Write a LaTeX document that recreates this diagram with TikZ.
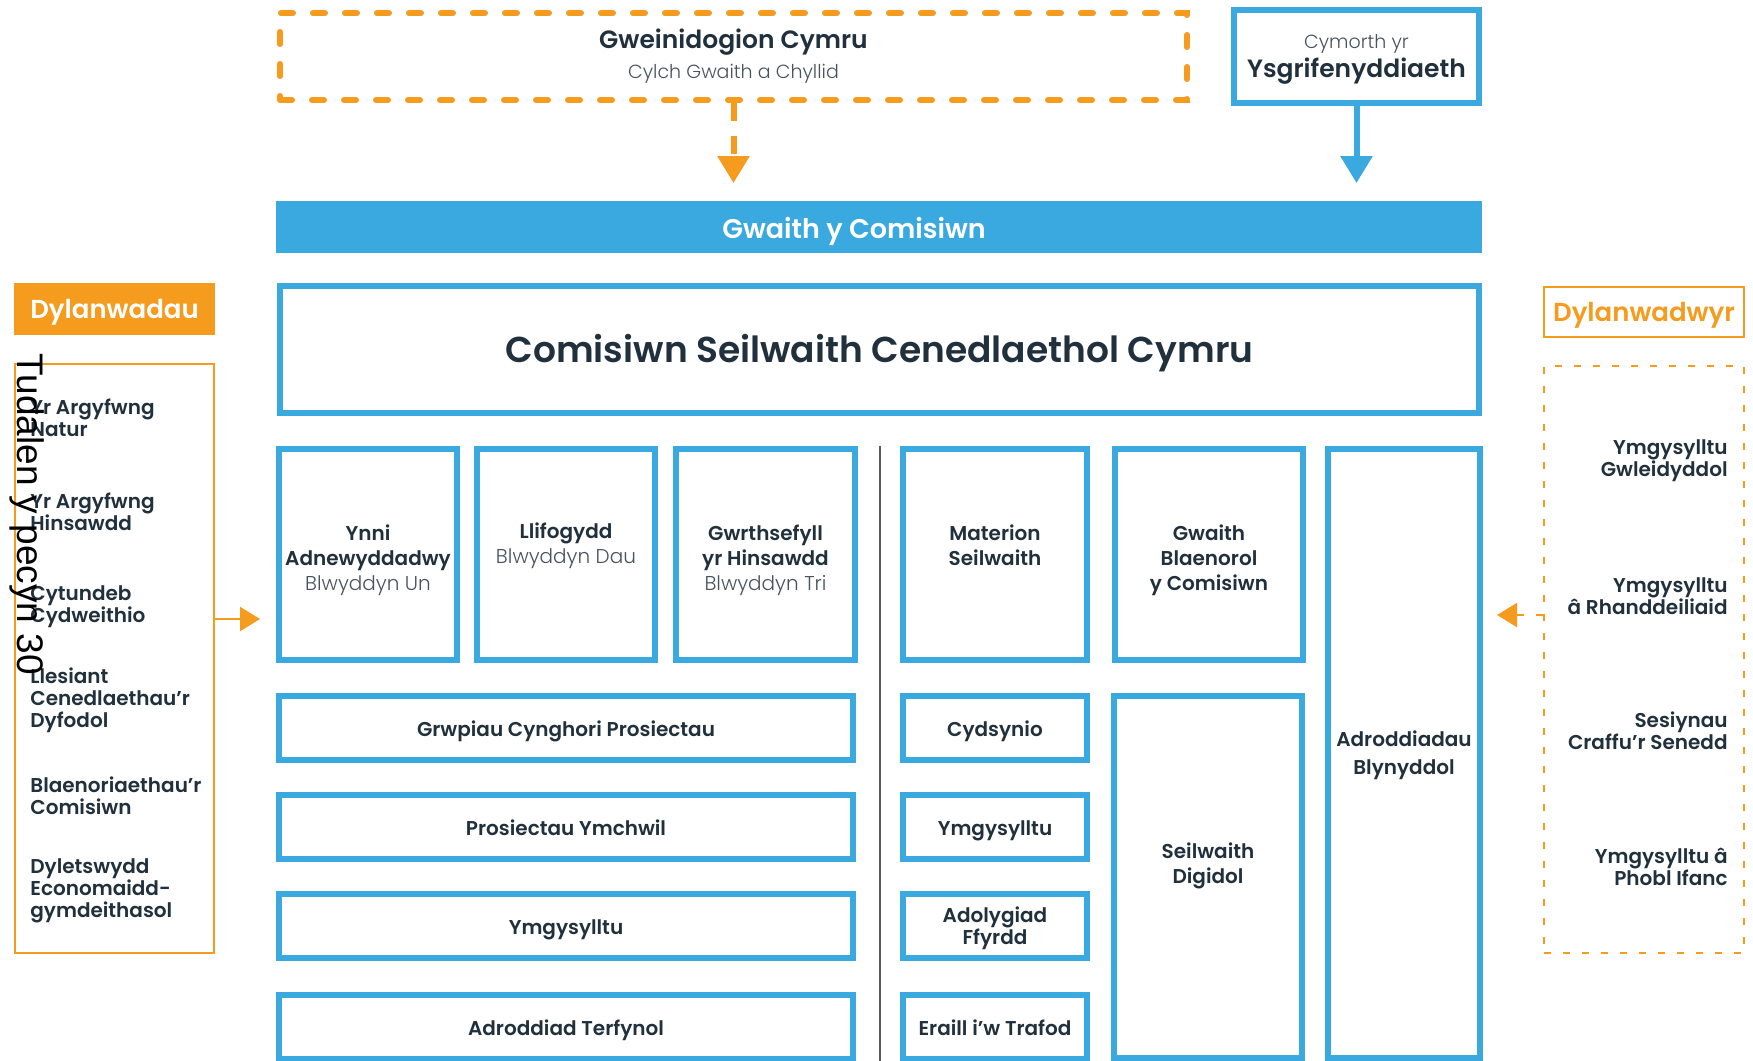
\documentclass[tikz,border=0pt]{standalone}
\usepackage{fontspec}
\setmainfont{Poppins}[BoldFont={Poppins SemiBold}]
\newfontfamily\lightfont{Poppins Light}
\newfontfamily\stampfont{Liberation Sans}
\usetikzlibrary{arrows.meta, positioning}

\definecolor{cblue}{HTML}{39A9DF}
\definecolor{corange}{HTML}{F59B1E}
\definecolor{cdark}{HTML}{20303D}
\definecolor{cgrey}{HTML}{47535E}

\newcommand\lighttext[1]{{\mdseries\lightfont\color{cgrey}#1}}

\begin{document}
\begin{tikzpicture}[x=1pt, y=-1pt,
  every node/.style={text=cdark},
  bluebox/.style={draw=cblue, line width=3pt, fill=white, align=center, inner sep=2pt,
    font=\fontsize{10}{12.5}\selectfont\bfseries},
  boxtext/.style={align=center, inner sep=0pt, font=\fontsize{10}{12.5}\selectfont\bfseries},
  widebox/.style={bluebox, minimum width=287pt, minimum height=32pt, text height=11pt, text depth=2.5pt},
  smallbox/.style={bluebox, minimum width=92pt, minimum height=32pt},
  toprow/.style={bluebox, minimum height=105.5pt},
  dashbox/.style={draw=corange, line width=3pt, line cap=round, dash pattern=on 6pt off 10pt,
    align=center, inner sep=2pt},
  item/.style={inner sep=0pt, font=\fontsize{10}{11}\selectfont\bfseries},
  orange flow/.style={draw=corange, line width=3pt, dash pattern=on 9pt off 7.5pt,
    -{Triangle[length=13.5pt, width=15.5pt]}},
  blue flow/.style={draw=cblue, line width=3pt, -{Triangle[length=13.5pt, width=15.5pt]}},
  side flow/.style={draw=corange, line width=1.2pt, -{Triangle[length=10pt, width=12pt]}},
  divider/.style={draw=black!65, line width=0.8pt}]

  \path[use as bounding box, fill=white] (0,0) rectangle (876.5,530.5);

  % ministers and secretariat
  \node[dashbox, minimum width=453.5pt, minimum height=43.5pt,
        font=\fontsize{12.5}{15}\selectfont\bfseries] (gwein) at (366.75,28.25)
    {Gweinidogion Cymru\\{\fontsize{9.5}{15}\selectfont\lighttext{Cylch Gwaith a Chyllid}}};
  \node[bluebox, minimum width=122.5pt, minimum height=46.5pt] (ysg) at (678.25,28.25) {};
  \node[boxtext, font=\fontsize{12.5}{14.5}\selectfont\bfseries] (ysg-t) at (678.25,29.5)
    {{\fontsize{9.5}{14.5}\selectfont\lighttext{Cymorth yr}}\\Ysgrifenyddiaeth};

  % work of the commission
  \node[fill=cblue, inner sep=0pt, minimum width=603pt, minimum height=26pt] (bar) at (439.5,113.5) {};
  \node[inner sep=0pt, text=white, font=\fontsize{13.5}{16}\selectfont\bfseries] (bar-t) at (427,115.5)
    {Gwaith y Comisiwn};
  \node[bluebox, minimum width=599.5pt, minimum height=63.5pt, text height=17.8pt, text depth=4.5pt,
        font=\fontsize{18}{22}\selectfont\bfseries] (com) at (439.75,174.75)
    {Comisiwn Seilwaith Cenedlaethol Cymru};

  % projects
  \node[toprow, minimum width=89pt] (renew) at (184,277.25) {};
  \node[boxtext] (renew-t) at (184,280) {Ynni\\Adnewyddadwy\\\lighttext{Blwyddyn Un}};
  \node[toprow, minimum width=89pt] (flood) at (283,277.25) {};
  \node[boxtext] (flood-t) at (283,272.75) {Llifogydd\\\lighttext{Blwyddyn Dau}};
  \node[toprow, minimum width=89.5pt] (resil) at (382.75,277.25) {};
  \node[boxtext] (resil-t) at (382.75,280) {Gwrthsefyll\\yr Hinsawdd\\\lighttext{Blwyddyn Tri}};

  \node[widebox] (advis) at (283,363.75) {Grwpiau Cynghori Prosiectau};
  \node[widebox] (research) at (283,413.5) {Prosiectau Ymchwil};
  \node[widebox] (engage) at (283,463) {Ymgysylltu};
  \node[widebox] (final) at (283,513.25) {Adroddiad Terfynol};

  \draw[divider] (440,223) -- (440,530.5);

  % other work
  \node[toprow, minimum width=92pt] (infra) at (497.5,277.25) {};
  \node[boxtext] (infra-t) at (497.5,272.75) {Materion\\Seilwaith};
  \node[toprow, minimum width=94pt] (prev) at (604.5,277.25) {};
  \node[boxtext] (prev-t) at (604.5,280) {Gwaith\\Blaenorol\\y Comisiwn};
  \node[bluebox, minimum width=76pt, minimum height=304.5pt] (annual) at (702,376.75) {};
  \node[boxtext] (annual-t) at (702,377.75) {Adroddiadau\\[1.5pt]Blynyddol};

  \node[smallbox, text height=11pt, text depth=2.5pt] (consent) at (497.5,363.75) {Cydsynio};
  \node[smallbox, text height=11pt, text depth=2.5pt] (engage2) at (497.5,413.5) {Ymgysylltu};
  \node[smallbox] (roads) at (497.5,463) {};
  \node[boxtext] (roads-t) at (497.5,464) {Adolygiad\\[-1.5pt]Ffyrdd};
  \node[smallbox, text height=11pt, text depth=2.5pt] (other) at (497.5,513.25) {Eraill i’w Trafod};
  \node[bluebox, minimum width=94pt, minimum height=181pt] (digital) at (604,438.5) {};
  \node[boxtext] (digital-t) at (604,432.75) {Seilwaith\\Digidol};

  % influences
  \node[fill=corange, text=white, inner sep=0pt, minimum width=100.5pt, minimum height=26pt,
        text height=13pt, text depth=3.3pt,
        font=\fontsize{13}{15}\selectfont\bfseries] (dyl) at (57.25,154.5) {Dylanwadau};
  \node[draw=corange, line width=1.2pt, minimum width=99.5pt, minimum height=294.5pt] (lbox)
    at (57.25,329.25) {};
  \node[item, anchor=west, align=left] (l1) at (15,208.75) {Yr Argyfwng\\Natur};
  \node[item, anchor=west, align=left] (l2) at (15,256) {Yr Argyfwng\\Hinsawdd};
  \node[item, anchor=west, align=left] (l3) at (15,303.25) {Cytundeb\\Cydweithio};
  \node[item, anchor=west, align=left] (l4) at (15,350.25) {Llesiant\\Cenedlaethau’r\\Dyfodol};
  \node[item, anchor=west, align=left] (l5) at (15,398) {Blaenoriaethau’r\\Comisiwn};
  \node[item, anchor=west, align=left] (l6) at (15,445.25) {Dyletswydd\\Economaidd-\\gymdeithasol};

  % influencers
  \node[draw=corange, line width=1.2pt, text=corange, inner sep=0pt, minimum width=100pt,
        minimum height=25pt, text height=12.5pt, text depth=3.3pt,
        font=\fontsize{13}{15}\selectfont\bfseries] (dylw) at (822,156) {Dylanwadwyr};
  \node[draw=corange, line width=1pt, dash pattern=on 3.5pt off 6pt, minimum width=100pt,
        minimum height=293.5pt] (rbox) at (822,329.5) {};
  \node[item, anchor=east, align=right] (r1) at (864,230.25) {Ymgysylltu\\Gwleidyddol};
  \node[item, anchor=east, align=right] (r2) at (864,298) {Ymgysylltu\\â Rhanddeiliaid};
  \node[item, anchor=east, align=right] (r3) at (864,365.5) {Sesiynau\\Craffu’r Senedd};
  \node[item, anchor=east, align=right] (r4) at (864,433.5) {Ymgysylltu â\\Phobl Ifanc};

  \coordinate (gw-in) at (366.75,91.5);
  \coordinate (ysg-in) at (678.25,91.5);
  \coordinate (l-in) at (130,309.5);
  \coordinate (r-in) at (748.5,307.5);

  \path
   (gwein) edge [orange flow] (gw-in)
   (ysg) edge [blue flow] (ysg-in)
   (lbox.east |- l-in) edge [side flow] (l-in)
   (rbox.west |- r-in) edge [side flow, line width=1pt, dash pattern=on 3.5pt off 6pt] (r-in);

  \node[rotate=-90, anchor=base west, inner sep=0pt, text=black,
        font=\stampfont\fontsize{18.5}{20}\selectfont] (stamp) at (9,176.5) {Tudalen y pecyn 30};
\end{tikzpicture}
\end{document}
